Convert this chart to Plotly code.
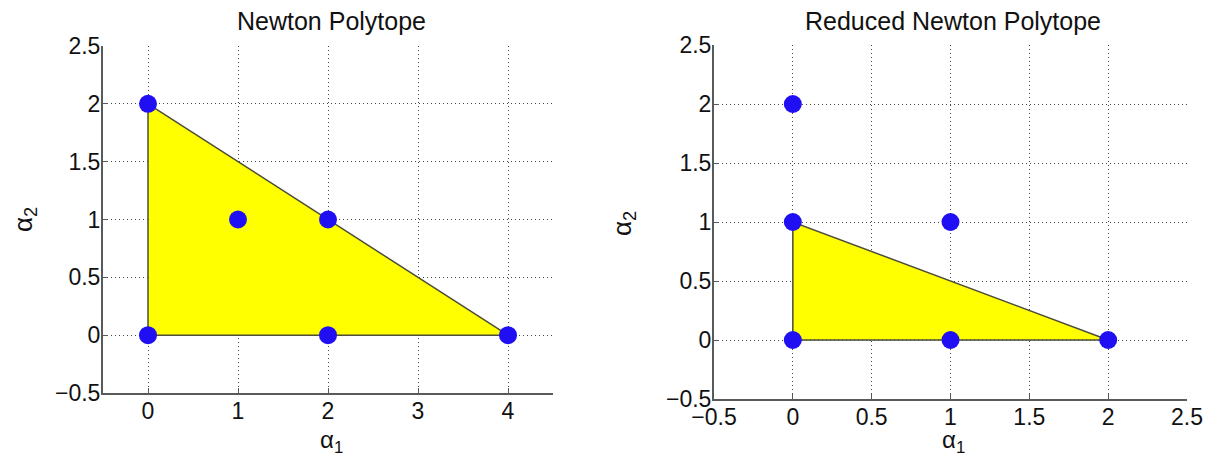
import plotly.graph_objects as go

# ---- data ----
left_pts_x = [0, 0, 1, 2, 2, 4]
left_pts_y = [0, 2, 1, 1, 0, 0]
left_poly_x = [0, 0, 4, 0]
left_poly_y = [0, 2, 0, 0]

right_pts_x = [0, 0, 0, 1, 1, 2]
right_pts_y = [0, 1, 2, 1, 0, 0]
right_poly_x = [0, 0, 2, 0]
right_poly_y = [0, 1, 0, 0]

left_xticks = [0, 1, 2, 3, 4]
right_xticks = [-0.5, 0, 0.5, 1, 1.5, 2, 2.5]
yticks = [-0.5, 0, 0.5, 1, 1.5, 2, 2.5]

def lbl(v):
    s = ("%g" % v)
    return s.replace("-", "\u2212")

FONT = "Liberation Sans, Arial, Helvetica, sans-serif"
MARK = "#1f0ff2"
FILL = "#ffff00"
EDGE = "#4d4d3a"

# page body has an 8px margin; figure size chosen so no scrollbars appear
W, H = 1209, 450
OFF = 8

def px(x):
    return (x - OFF) / W

def py(y):
    return 1 - (y - OFF) / H

fig = go.Figure()

fig.add_trace(go.Scatter(x=left_poly_x, y=left_poly_y, fill="toself", fillcolor=FILL,
                         mode="lines", line=dict(color=EDGE, width=1.5),
                         xaxis="x", yaxis="y", showlegend=False, hoverinfo="skip"))
fig.add_trace(go.Scatter(x=left_pts_x, y=left_pts_y, mode="markers",
                         marker=dict(size=18, color=MARK),
                         xaxis="x", yaxis="y", showlegend=False))
fig.add_trace(go.Scatter(x=right_poly_x, y=right_poly_y, fill="toself", fillcolor=FILL,
                         mode="lines", line=dict(color=EDGE, width=1.5),
                         xaxis="x2", yaxis="y2", showlegend=False, hoverinfo="skip"))
fig.add_trace(go.Scatter(x=right_pts_x, y=right_pts_y, mode="markers",
                         marker=dict(size=18, color=MARK),
                         xaxis="x2", yaxis="y2", showlegend=False))

axis_common = dict(showgrid=True, gridcolor="#444", gridwidth=1, griddash="1px,3px",
                   zeroline=False, showline=True, linecolor="#5a5a5a", linewidth=2,
                   ticks="inside", ticklen=5, tickcolor="#5a5a5a", tickwidth=1,
                   automargin=False, ticklabelstandoff=-4,
                   tickfont=dict(family=FONT, size=23, color="#111"))

fig.update_layout(
    width=W, height=H,
    margin=dict(l=0, r=0, t=0, b=0, pad=0, autoexpand=False),
    paper_bgcolor="white", plot_bgcolor="white",
    xaxis=dict(domain=[px(103), px(553)], range=[-0.5, 4.5], anchor="y",
               tickvals=left_xticks, ticktext=[lbl(v) for v in left_xticks], **axis_common),
    yaxis=dict(domain=[py(393), py(46)], range=[-0.5, 2.5], anchor="x",
               tickvals=yticks, ticktext=[lbl(v) for v in yticks], **axis_common),
    xaxis2=dict(domain=[px(714), px(1187)], range=[-0.5, 2.5], anchor="y2",
                tickvals=right_xticks, ticktext=[lbl(v) for v in right_xticks], **axis_common),
    yaxis2=dict(domain=[py(399), py(45)], range=[-0.5, 2.5], anchor="x2",
                tickvals=yticks, ticktext=[lbl(v) for v in yticks], **axis_common),
)

title_font = dict(family=FONT, size=25, color="#111")
label_font = dict(family=FONT, size=24, color="#111")
ylabel_font = dict(family=FONT, size=26, color="#111")
annotations = [
    dict(text="Newton Polytope", x=px(332), y=py(21), font=title_font),
    dict(text="Reduced Newton Polytope", x=px(953), y=py(21), font=title_font),
    dict(text="α<sub>1</sub>", x=px(332), y=py(441), font=label_font),
    dict(text="α<sub>1</sub>", x=px(953), y=py(441), font=label_font),
    dict(text="α<sub>2</sub>", x=px(25), y=py(220), textangle=-90, font=ylabel_font),
    dict(text="α<sub>2</sub>", x=px(623), y=py(224), textangle=-90, font=ylabel_font),
]
for a in annotations:
    a.update(xref="paper", yref="paper", showarrow=False, xanchor="center", yanchor="middle")
fig.update_layout(annotations=annotations)

fig.write_html("out.html")
